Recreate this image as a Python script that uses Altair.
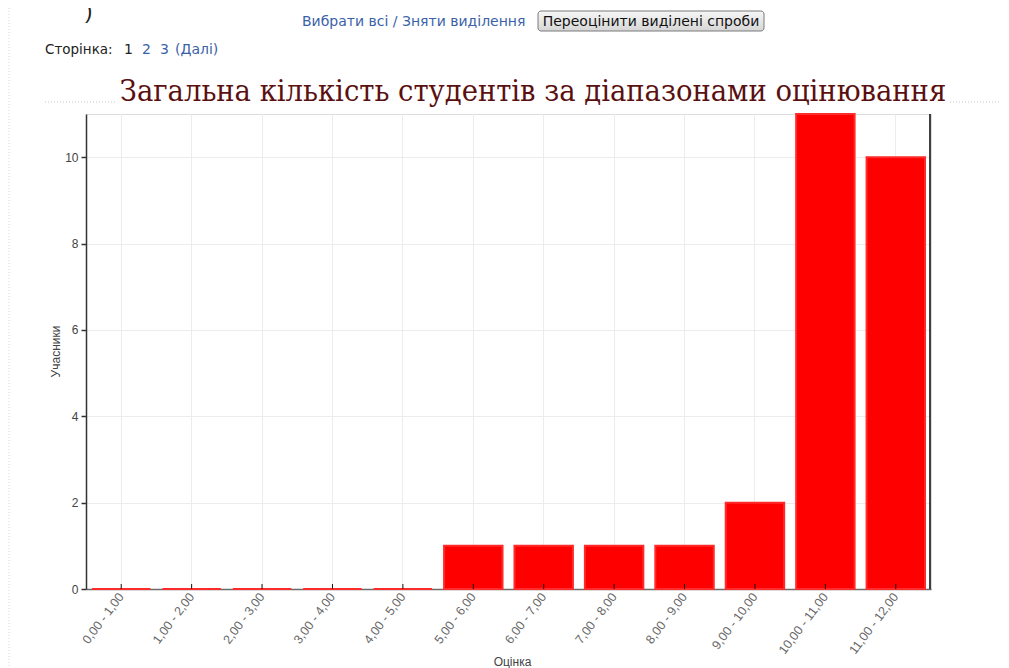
import altair as alt
import pandas as pd

categories = ["0,00 - 1,00", "1,00 - 2,00", "2,00 - 3,00", "3,00 - 4,00",
              "4,00 - 5,00", "5,00 - 6,00", "6,00 - 7,00", "7,00 - 8,00",
              "8,00 - 9,00", "9,00 - 10,00", "10,00 - 11,00", "11,00 - 12,00"]
counts = [0, 0, 0, 0, 0, 1, 1, 1, 1, 2, 11, 10]
y_ticks = [0, 2, 4, 6, 8, 10]

title_text = "Загальна кількість студентів за діапазонами оцінювання"
x_title = "Оцінка"
y_title = "Учасники"

df = pd.DataFrame({"range": categories, "count": counts})

W, H = 845, 475
SANS = "Liberation Sans"
PAGE = "DejaVu Sans"
one = alt.Data(values=[{}])

x_enc = alt.X(
    "range:N", sort=categories,
    scale=alt.Scale(paddingInner=0.17, paddingOuter=0.085),
    axis=alt.Axis(
        title=x_title, labelAngle=-53, labelAlign="right", labelBaseline="middle",
        labelPadding=5, labelFontSize=12.5, labelColor="#666", labelFont=SANS,
        labelOverlap=False, labelLimit=200,
        grid=True, gridColor="#ececec", bandPosition=0.5, ticks=False,
        domainColor="#6a6a6a", domainWidth=1.5,
        titleFont=SANS, titleFontSize=12, titleFontWeight="normal", titleColor="#444",
        titleX=426, titleY=72, titleBaseline="middle", titleAlign="center",
    ),
)
y_enc = alt.Y(
    "count:Q", scale=alt.Scale(domain=[0, 11], nice=False, zero=True),
    axis=alt.Axis(
        values=y_ticks, title=y_title, labelFontSize=12, labelColor="#444", labelFont=SANS,
        labelPadding=3, tickSize=5, tickColor="#333", tickWidth=1.5,
        grid=True, gridColor="#ececec",
        domainColor="#333", domainWidth=1.5,
        titleFont=SANS, titleFontSize=12, titleFontWeight="normal", titleColor="#444",
        titleX=-31, titleY=237, titleAngle=270, titleAlign="center", titleBaseline="middle",
    ),
)

bars = alt.Chart(df).mark_bar(color="#ff0000", stroke="#ff2a2a", strokeWidth=2).encode(
    x=x_enc, y=y_enc
)

inner_ticks = alt.Chart(df).mark_rule(color="#111", strokeWidth=1).encode(
    x=alt.X("range:N", sort=categories),
    y=alt.value(H - 5), y2=alt.value(H),
)

right_edge = alt.Chart(one).mark_rule(color="#000", strokeWidth=1.5).encode(
    x=alt.value(W - 1), y=alt.value(0), y2=alt.value(H)
)

dot_left = alt.Chart(one).mark_rule(color="#c8c8c8", strokeDash=[1, 2], strokeWidth=1).encode(
    x=alt.value(-41), x2=alt.value(30), y=alt.value(-12)
)
dot_right = alt.Chart(one).mark_rule(color="#c8c8c8", strokeDash=[1, 2], strokeWidth=1).encode(
    x=alt.value(864), x2=alt.value(930), y=alt.value(-12)
)
dot_vert = alt.Chart(one).mark_rule(color="#d8d8d8", strokeDash=[1, 2], strokeWidth=1).encode(
    x=alt.value(-77), y=alt.value(-106), y2=alt.value(560)
)

title = alt.Chart(one).mark_text(
    font="DejaVu Serif Condensed, Liberation Serif, serif", fontSize=30.5, color="#5a1010",
    align="center", baseline="alphabetic"
).encode(x=alt.value(447), y=alt.value(-13), text=alt.value(title_text))

paren = alt.Chart(one).mark_text(
    font=SANS, fontSize=22, color="#222", align="left", baseline="alphabetic"
).encode(x=alt.value(-1), y=alt.value(-96), text=alt.value(")"))

links = alt.Chart(one).mark_text(
    font=PAGE, fontSize=14, color="#3a62a8", align="left", baseline="alphabetic"
).encode(x=alt.value(216), y=alt.value(-88), text=alt.value("Вибрати всі / Зняти виділення"))

button_box = alt.Chart(one).mark_rect(
    fill=alt.Gradient(gradient="linear", x1=0, x2=0, y1=0, y2=1,
                      stops=[alt.GradientStop(color="#f6f6f6", offset=0),
                             alt.GradientStop(color="#d6d6d6", offset=1)]),
    stroke="#7a7a7a", strokeWidth=1, cornerRadius=3,
).encode(x=alt.value(452), x2=alt.value(678), y=alt.value(-103), y2=alt.value(-83))

button_text = alt.Chart(one).mark_text(
    font=PAGE, fontSize=14, color="#111", align="center", baseline="alphabetic"
).encode(x=alt.value(565), y=alt.value(-88), text=alt.value("Переоцінити виділені спроби"))

page_label = alt.Chart(one).mark_text(
    font=PAGE, fontSize=13.5, color="#222", align="left", baseline="alphabetic"
).encode(x=alt.value(-41), y=alt.value(-60), text=alt.value("Сторінка:"))
page_1 = alt.Chart(one).mark_text(
    font=PAGE, fontSize=14, color="#222", align="left", baseline="alphabetic"
).encode(x=alt.value(38), y=alt.value(-60), text=alt.value("1"))
page_2 = alt.Chart(one).mark_text(
    font=PAGE, fontSize=14, color="#3a62a8", align="left", baseline="alphabetic"
).encode(x=alt.value(56), y=alt.value(-60), text=alt.value("2"))
page_3 = alt.Chart(one).mark_text(
    font=PAGE, fontSize=14, color="#3a62a8", align="left", baseline="alphabetic"
).encode(x=alt.value(74), y=alt.value(-60), text=alt.value("3"))
page_next = alt.Chart(one).mark_text(
    font=PAGE, fontSize=14, color="#3a62a8", align="left", baseline="alphabetic"
).encode(x=alt.value(89), y=alt.value(-60), text=alt.value("(Далі)"))

chart = alt.layer(
    bars, inner_ticks, right_edge, dot_vert, dot_left, dot_right, title, paren,
    links, button_box, button_text, page_label, page_1, page_2, page_3, page_next,
).properties(
    width=W, height=H,
    autosize=alt.AutoSizeParams(type="none"),
    padding={"left": 78, "top": 106, "right": 70, "bottom": 80},
).configure_view(
    stroke="#808080", strokeWidth=2
).configure(background="white")

chart.save("out.html", embed_options={"renderer": "svg", "actions": False})
